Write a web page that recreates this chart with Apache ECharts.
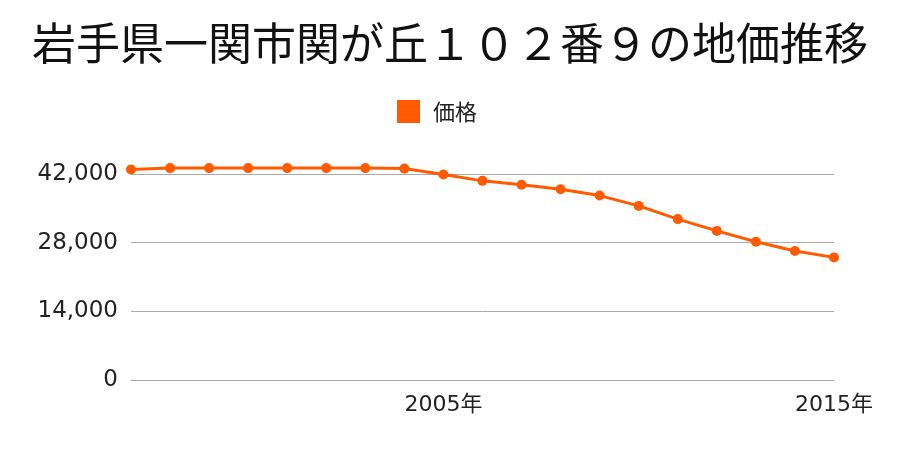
<!DOCTYPE html>
<html>
<head>
<meta charset="utf-8">
<script src="https://cdn.jsdelivr.net/npm/echarts@6/dist/echarts.min.js"></script>
<style>html,body{margin:0;padding:0;background:#fff}#c{width:900px;height:450px}</style>
</head>
<body>
<div id="c"></div>
<script>
const years = ["1997","1998","1999","2000","2001","2002","2003","2004","2005","2006","2007","2008","2009","2010","2011","2012","2013","2014","2015"];
const prices = [42900,43200,43200,43200,43200,43200,43200,43100,41900,40600,39800,38900,37600,35500,32800,30400,28200,26300,25000];
const shownYears = ["2005","2015"];
const yTicks = [0,14000,28000,42000];
const titleText = "岩手県一関市関が丘１０２番９の地価推移";
const seriesName = "価格";

const chart = echarts.init(document.getElementById('c'), null, {renderer:'canvas'});
chart.setOption({
  animation:false,
  title:{text:titleText,left:'center',top:16,textStyle:{fontFamily:'Noto Sans CJK JP',fontSize:44,fontWeight:'normal',color:'#111'}},
  legend:{data:[seriesName],top:95,left:392,itemWidth:23,itemHeight:23,icon:'rect',
    textStyle:{fontFamily:'Noto Sans CJK JP',fontSize:22,color:'#222',padding:[0,0,0,8]}},
  grid:{left:131,right:66,top:174,bottom:70,containLabel:false},
  xAxis:{type:'category',data:years,boundaryGap:false,
    axisLine:{show:true,lineStyle:{color:'#aaa',width:1}},
    axisTick:{show:false},
    axisLabel:{interval:0,margin:14,fontFamily:'DejaVu Sans, Noto Sans CJK JP',fontSize:22,color:'#222',
      formatter:function(v){return shownYears.indexOf(v)>=0? v+'年':'';}},
    splitLine:{show:false}},
  yAxis:{type:'value',min:yTicks[0],max:yTicks[yTicks.length-1],interval:yTicks[1]-yTicks[0],
    axisLine:{show:false},axisTick:{show:false},
    axisLabel:{margin:13,fontFamily:'DejaVu Sans, Noto Sans CJK JP',fontSize:23,color:'#222',
      formatter:function(v){return v.toLocaleString('en-US');}},
    splitLine:{show:true,lineStyle:{color:'#aaa',width:1}}},
  series:[{name:seriesName,type:'line',data:prices,clip:false,symbol:'circle',symbolSize:10,
    itemStyle:{color:'#ff5a00'},lineStyle:{color:'#ff5a00',width:3}}]
});
</script>
</body>
</html>
